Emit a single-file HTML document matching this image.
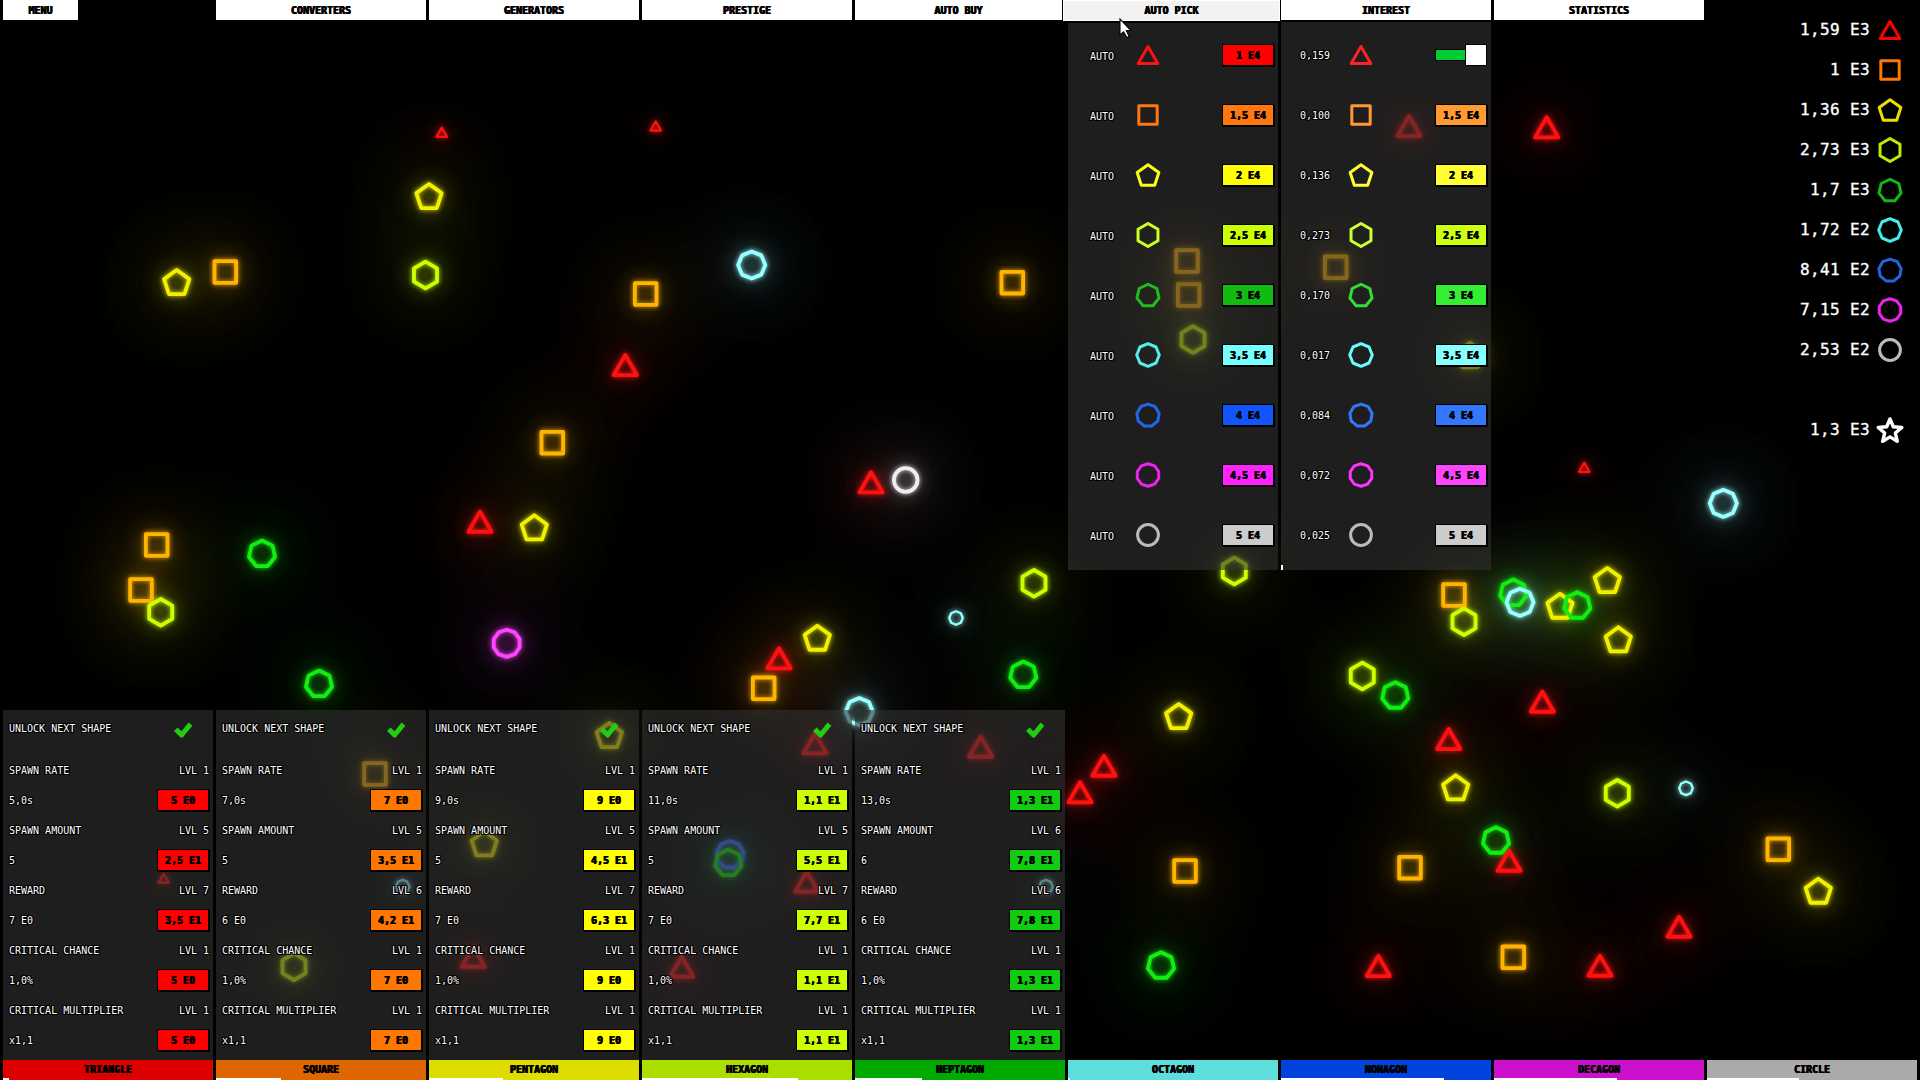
<!DOCTYPE html><html><head><meta charset="utf-8"><style>
*{margin:0;padding:0;box-sizing:border-box}
html,body{width:1920px;height:1080px;overflow:hidden;background:#000}
body{position:relative;font-family:'DejaVu Sans Mono','Liberation Mono',monospace;font-size:10px;color:#fff}
.a{position:absolute}
.tab{position:absolute;top:0;height:20px;background:#fff;color:#000;text-align:center;line-height:21px;font-size:10px;font-weight:bold;text-shadow:0.5px 0 0 #000,-0.3px 0 0 #000,0 0.4px 0 #000}
.panel{position:absolute;background:rgba(50,50,50,0.6)}
.t{position:absolute;line-height:10px;white-space:pre;text-shadow:-1px -1px 0 #000,1px -1px 0 #000,-1px 1px 0 #000,1px 1px 0 #000,0 1px 0 #000,1px 0 0 #000,-1px 0 0 #000,0 -1px 0 #000}
.btn{position:absolute;width:52px;height:22px;border:1px solid #000;box-shadow:1px 1px 0 #000;color:#000;text-align:center;line-height:22px;font-size:10px;font-weight:bold;text-shadow:0.5px 0 0 #000,-0.3px 0 0 #000,0 0.4px 0 #000}
.btab{position:absolute;top:1060px;height:20px;color:#000;text-align:center;line-height:19px;font-size:10px;overflow:hidden;font-weight:bold;text-shadow:0.5px 0 0 #000,-0.3px 0 0 #000,0 0.4px 0 #000}
.bar{position:absolute;left:0;bottom:0;height:2px;background:#fff}
.stat{position:absolute;right:50px;font-size:16px;line-height:16px;letter-spacing:0.35px;-webkit-text-stroke:0.35px #fff;text-align:right;white-space:pre}
</style></head><body>
<svg width="1920" height="1080" style="position:absolute;left:0;top:0">
<defs><filter id="g1" filterUnits="userSpaceOnUse" x="-150" y="-150" width="2220" height="1380" color-interpolation-filters="sRGB"><feGaussianBlur in="SourceGraphic" stdDeviation="40" result="b3"/><feGaussianBlur in="SourceGraphic" stdDeviation="10" result="b2"/><feGaussianBlur in="SourceGraphic" stdDeviation="2.5" result="b1"/><feComponentTransfer in="b3" result="b3a"><feFuncA type="linear" slope="1.6"/></feComponentTransfer><feComponentTransfer in="b2" result="b2a"><feFuncA type="linear" slope="0.7"/></feComponentTransfer><feComponentTransfer in="b1" result="b1a"><feFuncA type="linear" slope="0.9"/></feComponentTransfer><feMerge><feMergeNode in="b3a"/><feMergeNode in="b2a"/><feMergeNode in="b1a"/><feMergeNode in="SourceGraphic"/></feMerge></filter></defs>
<g filter="url(#g1)">
<polygon points="441.70,127.78 446.92,136.82 436.48,136.82" fill="none" stroke="#ff1111" stroke-width="2.3" stroke-linejoin="round" />
<polygon points="429.00,183.97 441.65,193.16 436.82,208.03 421.18,208.03 416.35,193.16" fill="none" stroke="#f0f000" stroke-width="3.8" stroke-linejoin="round" />
<polygon points="425.50,261.70 437.02,268.35 437.02,281.65 425.50,288.30 413.98,281.65 413.98,268.35" fill="none" stroke="#ccff00" stroke-width="3.8" stroke-linejoin="round" />
<polygon points="176.70,269.97 189.35,279.16 184.52,294.03 168.88,294.03 164.05,279.16" fill="none" stroke="#f0f000" stroke-width="3.8" stroke-linejoin="round" />
<polygon points="214.48,261.18 236.12,261.18 236.12,282.82 214.48,282.82" fill="none" stroke="#ffb400" stroke-width="3.8" stroke-linejoin="round" />
<polygon points="655.70,121.48 660.92,130.52 650.48,130.52" fill="none" stroke="#ff1111" stroke-width="2.3" stroke-linejoin="round" />
<polygon points="751.70,251.40 761.32,255.38 765.30,265.00 761.32,274.62 751.70,278.60 742.08,274.62 738.10,265.00 742.08,255.38" fill="none" stroke="#99ffff" stroke-width="3.8" stroke-linejoin="round" />
<polygon points="634.88,283.18 656.52,283.18 656.52,304.82 634.88,304.82" fill="none" stroke="#ffb400" stroke-width="3.8" stroke-linejoin="round" />
<polygon points="625.30,354.95 636.90,375.05 613.70,375.05" fill="none" stroke="#ff1111" stroke-width="3.8" stroke-linejoin="round" />
<polygon points="1001.48,271.88 1023.12,271.88 1023.12,293.52 1001.48,293.52" fill="none" stroke="#ffb400" stroke-width="3.8" stroke-linejoin="round" />
<polygon points="1176.18,250.18 1197.82,250.18 1197.82,271.82 1176.18,271.82" fill="none" stroke="#ffb400" stroke-width="3.8" stroke-linejoin="round" />
<polygon points="1177.88,284.18 1199.52,284.18 1199.52,305.82 1177.88,305.82" fill="none" stroke="#ffb400" stroke-width="3.8" stroke-linejoin="round" />
<polygon points="1193.00,326.20 1204.52,332.85 1204.52,346.15 1193.00,352.80 1181.48,346.15 1181.48,332.85" fill="none" stroke="#ccff00" stroke-width="3.8" stroke-linejoin="round" />
<polygon points="1409.00,115.95 1420.60,136.05 1397.40,136.05" fill="none" stroke="#ff1111" stroke-width="3.8" stroke-linejoin="round" />
<polygon points="1324.88,256.48 1346.52,256.48 1346.52,278.12 1324.88,278.12" fill="none" stroke="#ffb400" stroke-width="3.8" stroke-linejoin="round" />
<polygon points="1546.70,117.25 1558.30,137.35 1535.10,137.35" fill="none" stroke="#ff1111" stroke-width="3.8" stroke-linejoin="round" />
<polygon points="145.88,534.18 167.52,534.18 167.52,555.82 145.88,555.82" fill="none" stroke="#ffb400" stroke-width="3.8" stroke-linejoin="round" />
<polygon points="130.18,579.18 151.82,579.18 151.82,600.82 130.18,600.82" fill="none" stroke="#ffb400" stroke-width="3.8" stroke-linejoin="round" />
<polygon points="160.70,599.00 172.22,605.65 172.22,618.95 160.70,625.60 149.18,618.95 149.18,605.65" fill="none" stroke="#ccff00" stroke-width="3.8" stroke-linejoin="round" />
<polygon points="262.00,540.56 272.48,545.61 275.06,556.95 267.81,566.04 256.19,566.04 248.94,556.95 251.52,545.61" fill="none" stroke="#11ee11" stroke-width="3.8" stroke-linejoin="round" />
<polygon points="319.00,670.56 329.48,675.61 332.06,686.95 324.81,696.04 313.19,696.04 305.94,686.95 308.52,675.61" fill="none" stroke="#11ee11" stroke-width="3.8" stroke-linejoin="round" />
<polygon points="541.48,431.88 563.12,431.88 563.12,453.52 541.48,453.52" fill="none" stroke="#ffb400" stroke-width="3.8" stroke-linejoin="round" />
<polygon points="480.00,511.65 491.60,531.75 468.40,531.75" fill="none" stroke="#ff1111" stroke-width="3.8" stroke-linejoin="round" />
<polygon points="534.30,515.27 546.95,524.46 542.12,539.33 526.48,539.33 521.65,524.46" fill="none" stroke="#f0f000" stroke-width="3.8" stroke-linejoin="round" />
<polygon points="871.00,472.25 882.60,492.35 859.40,492.35" fill="none" stroke="#ff1111" stroke-width="3.8" stroke-linejoin="round" />
<circle cx="905.7" cy="480.0" r="11.8" fill="none" stroke="#eeeeee" stroke-width="3.8" />
<polygon points="506.70,629.70 514.69,632.30 519.63,639.10 519.63,647.50 514.69,654.30 506.70,656.90 498.71,654.30 493.77,647.50 493.77,639.10 498.71,632.30" fill="none" stroke="#ff44ff" stroke-width="3.8" stroke-linejoin="round" />
<polygon points="817.30,625.67 829.95,634.86 825.12,649.73 809.48,649.73 804.65,634.86" fill="none" stroke="#f0f000" stroke-width="3.8" stroke-linejoin="round" />
<polygon points="779.00,648.25 790.60,668.35 767.40,668.35" fill="none" stroke="#ff1111" stroke-width="3.8" stroke-linejoin="round" />
<polygon points="752.88,677.48 774.52,677.48 774.52,699.12 752.88,699.12" fill="none" stroke="#ffb400" stroke-width="3.8" stroke-linejoin="round" />
<polygon points="956.00,611.20 960.81,613.19 962.80,618.00 960.81,622.81 956.00,624.80 951.19,622.81 949.20,618.00 951.19,613.19" fill="none" stroke="#99ffff" stroke-width="2.3" stroke-linejoin="round" />
<polygon points="859.30,698.10 868.92,702.08 872.90,711.70 868.92,721.32 859.30,725.30 849.68,721.32 845.70,711.70 849.68,702.08" fill="none" stroke="#99ffff" stroke-width="3.8" stroke-linejoin="round" />
<polygon points="1034.00,570.00 1045.52,576.65 1045.52,589.95 1034.00,596.60 1022.48,589.95 1022.48,576.65" fill="none" stroke="#ccff00" stroke-width="3.8" stroke-linejoin="round" />
<polygon points="1234.30,557.70 1245.82,564.35 1245.82,577.65 1234.30,584.30 1222.78,577.65 1222.78,564.35" fill="none" stroke="#ccff00" stroke-width="3.8" stroke-linejoin="round" />
<polygon points="1023.30,661.56 1033.78,666.61 1036.36,677.95 1029.11,687.04 1017.49,687.04 1010.24,677.95 1012.82,666.61" fill="none" stroke="#11ee11" stroke-width="3.8" stroke-linejoin="round" />
<polygon points="1178.70,703.97 1191.35,713.16 1186.52,728.03 1170.88,728.03 1166.05,713.16" fill="none" stroke="#f0f000" stroke-width="3.8" stroke-linejoin="round" />
<polygon points="1362.30,662.70 1373.82,669.35 1373.82,682.65 1362.30,689.30 1350.78,682.65 1350.78,669.35" fill="none" stroke="#ccff00" stroke-width="3.8" stroke-linejoin="round" />
<polygon points="1395.30,682.26 1405.78,687.31 1408.36,698.65 1401.11,707.74 1389.49,707.74 1382.24,698.65 1384.82,687.31" fill="none" stroke="#11ee11" stroke-width="3.8" stroke-linejoin="round" />
<polygon points="1584.30,462.78 1589.52,471.82 1579.08,471.82" fill="none" stroke="#ff1111" stroke-width="2.3" stroke-linejoin="round" />
<polygon points="1723.30,489.70 1732.92,493.68 1736.90,503.30 1732.92,512.92 1723.30,516.90 1713.68,512.92 1709.70,503.30 1713.68,493.68" fill="none" stroke="#99ffff" stroke-width="3.8" stroke-linejoin="round" />
<polygon points="1443.18,584.18 1464.82,584.18 1464.82,605.82 1443.18,605.82" fill="none" stroke="#ffb400" stroke-width="3.8" stroke-linejoin="round" />
<polygon points="1464.00,608.40 1475.52,615.05 1475.52,628.35 1464.00,635.00 1452.48,628.35 1452.48,615.05" fill="none" stroke="#ccff00" stroke-width="3.8" stroke-linejoin="round" />
<polygon points="1513.30,579.56 1523.78,584.61 1526.36,595.95 1519.11,605.04 1507.49,605.04 1500.24,595.95 1502.82,584.61" fill="none" stroke="#11ee11" stroke-width="3.8" stroke-linejoin="round" />
<polygon points="1520.00,588.70 1529.62,592.68 1533.60,602.30 1529.62,611.92 1520.00,615.90 1510.38,611.92 1506.40,602.30 1510.38,592.68" fill="none" stroke="#99ffff" stroke-width="3.8" stroke-linejoin="round" />
<polygon points="1560.00,593.67 1572.65,602.86 1567.82,617.73 1552.18,617.73 1547.35,602.86" fill="none" stroke="#f0f000" stroke-width="3.8" stroke-linejoin="round" />
<polygon points="1577.30,592.26 1587.78,597.31 1590.36,608.65 1583.11,617.74 1571.49,617.74 1564.24,608.65 1566.82,597.31" fill="none" stroke="#11ee11" stroke-width="3.8" stroke-linejoin="round" />
<polygon points="1607.30,567.97 1619.95,577.16 1615.12,592.03 1599.48,592.03 1594.65,577.16" fill="none" stroke="#f0f000" stroke-width="3.8" stroke-linejoin="round" />
<polygon points="1618.30,627.27 1630.95,636.46 1626.12,651.33 1610.48,651.33 1605.65,636.46" fill="none" stroke="#f0f000" stroke-width="3.8" stroke-linejoin="round" />
<polygon points="1542.30,691.65 1553.90,711.75 1530.70,711.75" fill="none" stroke="#ff1111" stroke-width="3.8" stroke-linejoin="round" />
<polygon points="1448.70,728.95 1460.30,749.05 1437.10,749.05" fill="none" stroke="#ff1111" stroke-width="3.8" stroke-linejoin="round" />
<polygon points="1104.00,755.65 1115.60,775.75 1092.40,775.75" fill="none" stroke="#ff1111" stroke-width="3.8" stroke-linejoin="round" />
<polygon points="1080.00,782.25 1091.60,802.35 1068.40,802.35" fill="none" stroke="#ff1111" stroke-width="3.8" stroke-linejoin="round" />
<polygon points="1174.18,860.18 1195.82,860.18 1195.82,881.82 1174.18,881.82" fill="none" stroke="#ffb400" stroke-width="3.8" stroke-linejoin="round" />
<polygon points="1161.00,952.26 1171.48,957.31 1174.06,968.65 1166.81,977.74 1155.19,977.74 1147.94,968.65 1150.52,957.31" fill="none" stroke="#11ee11" stroke-width="3.8" stroke-linejoin="round" />
<polygon points="1455.70,775.27 1468.35,784.46 1463.52,799.33 1447.88,799.33 1443.05,784.46" fill="none" stroke="#f0f000" stroke-width="3.8" stroke-linejoin="round" />
<polygon points="1399.18,856.88 1420.82,856.88 1420.82,878.52 1399.18,878.52" fill="none" stroke="#ffb400" stroke-width="3.8" stroke-linejoin="round" />
<polygon points="1378.30,955.95 1389.90,976.05 1366.70,976.05" fill="none" stroke="#ff1111" stroke-width="3.8" stroke-linejoin="round" />
<polygon points="1617.30,780.00 1628.82,786.65 1628.82,799.95 1617.30,806.60 1605.78,799.95 1605.78,786.65" fill="none" stroke="#ccff00" stroke-width="3.8" stroke-linejoin="round" />
<polygon points="1686.00,781.50 1690.81,783.49 1692.80,788.30 1690.81,793.11 1686.00,795.10 1681.19,793.11 1679.20,788.30 1681.19,783.49" fill="none" stroke="#99ffff" stroke-width="2.3" stroke-linejoin="round" />
<polygon points="1496.00,827.26 1506.48,832.31 1509.06,843.65 1501.81,852.74 1490.19,852.74 1482.94,843.65 1485.52,832.31" fill="none" stroke="#11ee11" stroke-width="3.8" stroke-linejoin="round" />
<polygon points="1509.00,850.65 1520.60,870.75 1497.40,870.75" fill="none" stroke="#ff1111" stroke-width="3.8" stroke-linejoin="round" />
<polygon points="1767.48,838.48 1789.12,838.48 1789.12,860.12 1767.48,860.12" fill="none" stroke="#ffb400" stroke-width="3.8" stroke-linejoin="round" />
<polygon points="1818.30,878.67 1830.95,887.86 1826.12,902.73 1810.48,902.73 1805.65,887.86" fill="none" stroke="#f0f000" stroke-width="3.8" stroke-linejoin="round" />
<polygon points="1679.00,916.65 1690.60,936.75 1667.40,936.75" fill="none" stroke="#ff1111" stroke-width="3.8" stroke-linejoin="round" />
<polygon points="1502.48,946.48 1524.12,946.48 1524.12,968.12 1502.48,968.12" fill="none" stroke="#ffb400" stroke-width="3.8" stroke-linejoin="round" />
<polygon points="1600.00,955.65 1611.60,975.75 1588.40,975.75" fill="none" stroke="#ff1111" stroke-width="3.8" stroke-linejoin="round" />
<polygon points="163.70,873.68 168.92,882.72 158.48,882.72" fill="none" stroke="#ff1111" stroke-width="2.3" stroke-linejoin="round" />
<polygon points="364.18,763.18 385.82,763.18 385.82,784.82 364.18,784.82" fill="none" stroke="#ffb400" stroke-width="3.8" stroke-linejoin="round" />
<polygon points="402.70,879.90 407.51,881.89 409.50,886.70 407.51,891.51 402.70,893.50 397.89,891.51 395.90,886.70 397.89,881.89" fill="none" stroke="#99ffff" stroke-width="2.3" stroke-linejoin="round" />
<polygon points="294.00,953.40 305.52,960.05 305.52,973.35 294.00,980.00 282.48,973.35 282.48,960.05" fill="none" stroke="#ccff00" stroke-width="3.8" stroke-linejoin="round" />
<polygon points="609.30,722.97 621.95,732.16 617.12,747.03 601.48,747.03 596.65,732.16" fill="none" stroke="#f0f000" stroke-width="3.8" stroke-linejoin="round" />
<polygon points="484.30,831.27 496.95,840.46 492.12,855.33 476.48,855.33 471.65,840.46" fill="none" stroke="#f0f000" stroke-width="3.8" stroke-linejoin="round" />
<polygon points="473.30,946.65 484.90,966.75 461.70,966.75" fill="none" stroke="#ff1111" stroke-width="3.8" stroke-linejoin="round" />
<polygon points="815.00,733.25 826.60,753.35 803.40,753.35" fill="none" stroke="#ff1111" stroke-width="3.8" stroke-linejoin="round" />
<polygon points="730.00,841.11 738.74,844.29 743.39,852.35 741.78,861.51 734.65,867.49 725.35,867.49 718.22,861.51 716.61,852.35 721.26,844.29" fill="none" stroke="#3377ff" stroke-width="3.8" stroke-linejoin="round" />
<polygon points="728.30,849.56 738.78,854.61 741.36,865.95 734.11,875.04 722.49,875.04 715.24,865.95 717.82,854.61" fill="none" stroke="#11ee11" stroke-width="3.8" stroke-linejoin="round" />
<polygon points="806.70,871.65 818.30,891.75 795.10,891.75" fill="none" stroke="#ff1111" stroke-width="3.8" stroke-linejoin="round" />
<polygon points="681.70,956.65 693.30,976.75 670.10,976.75" fill="none" stroke="#ff1111" stroke-width="3.8" stroke-linejoin="round" />
<polygon points="980.70,736.65 992.30,756.75 969.10,756.75" fill="none" stroke="#ff1111" stroke-width="3.8" stroke-linejoin="round" />
<polygon points="1046.00,879.90 1050.81,881.89 1052.80,886.70 1050.81,891.51 1046.00,893.50 1041.19,891.51 1039.20,886.70 1041.19,881.89" fill="none" stroke="#99ffff" stroke-width="2.3" stroke-linejoin="round" />
<polygon points="1470.00,342.97 1482.65,352.16 1477.82,367.03 1462.18,367.03 1457.35,352.16" fill="none" stroke="#f0f000" stroke-width="3.8" stroke-linejoin="round" />
</g></svg>
<div class="panel" style="left:3px;top:710px;width:210px;height:350px"></div>
<div class="t" style="left:9px;top:724px">UNLOCK NEXT SHAPE</div>
<svg class="a" style="left:174px;top:722px" width="20" height="16" viewBox="0 0 20 16"><polyline points="1.8,7.2 7.6,13 16.5,2.2" fill="none" stroke="#22cc11" stroke-width="5" stroke-linejoin="round"/></svg>
<div class="t" style="left:9px;top:766px">SPAWN RATE</div>
<div class="t" style="left:154px;width:55px;text-align:right;top:766px">LVL 1</div>
<div class="t" style="left:9px;top:796px">5,0s</div>
<div class="btn" style="left:157px;top:789px;background:#ff0000">5 E0</div>
<div class="t" style="left:9px;top:826px">SPAWN AMOUNT</div>
<div class="t" style="left:154px;width:55px;text-align:right;top:826px">LVL 5</div>
<div class="t" style="left:9px;top:856px">5</div>
<div class="btn" style="left:157px;top:849px;background:#ff0000">2,5 E1</div>
<div class="t" style="left:9px;top:886px">REWARD</div>
<div class="t" style="left:154px;width:55px;text-align:right;top:886px">LVL 7</div>
<div class="t" style="left:9px;top:916px">7 E0</div>
<div class="btn" style="left:157px;top:909px;background:#ff0000">3,5 E1</div>
<div class="t" style="left:9px;top:946px">CRITICAL CHANCE</div>
<div class="t" style="left:154px;width:55px;text-align:right;top:946px">LVL 1</div>
<div class="t" style="left:9px;top:976px">1,0%</div>
<div class="btn" style="left:157px;top:969px;background:#ff0000">5 E0</div>
<div class="t" style="left:9px;top:1006px">CRITICAL MULTIPLIER</div>
<div class="t" style="left:154px;width:55px;text-align:right;top:1006px">LVL 1</div>
<div class="t" style="left:9px;top:1036px">x1,1</div>
<div class="btn" style="left:157px;top:1029px;background:#ff0000">5 E0</div>
<div class="panel" style="left:216px;top:710px;width:210px;height:350px"></div>
<div class="t" style="left:222px;top:724px">UNLOCK NEXT SHAPE</div>
<svg class="a" style="left:387px;top:722px" width="20" height="16" viewBox="0 0 20 16"><polyline points="1.8,7.2 7.6,13 16.5,2.2" fill="none" stroke="#22cc11" stroke-width="5" stroke-linejoin="round"/></svg>
<div class="t" style="left:222px;top:766px">SPAWN RATE</div>
<div class="t" style="left:367px;width:55px;text-align:right;top:766px">LVL 1</div>
<div class="t" style="left:222px;top:796px">7,0s</div>
<div class="btn" style="left:370px;top:789px;background:#ff7700">7 E0</div>
<div class="t" style="left:222px;top:826px">SPAWN AMOUNT</div>
<div class="t" style="left:367px;width:55px;text-align:right;top:826px">LVL 5</div>
<div class="t" style="left:222px;top:856px">5</div>
<div class="btn" style="left:370px;top:849px;background:#ff7700">3,5 E1</div>
<div class="t" style="left:222px;top:886px">REWARD</div>
<div class="t" style="left:367px;width:55px;text-align:right;top:886px">LVL 6</div>
<div class="t" style="left:222px;top:916px">6 E0</div>
<div class="btn" style="left:370px;top:909px;background:#ff7700">4,2 E1</div>
<div class="t" style="left:222px;top:946px">CRITICAL CHANCE</div>
<div class="t" style="left:367px;width:55px;text-align:right;top:946px">LVL 1</div>
<div class="t" style="left:222px;top:976px">1,0%</div>
<div class="btn" style="left:370px;top:969px;background:#ff7700">7 E0</div>
<div class="t" style="left:222px;top:1006px">CRITICAL MULTIPLIER</div>
<div class="t" style="left:367px;width:55px;text-align:right;top:1006px">LVL 1</div>
<div class="t" style="left:222px;top:1036px">x1,1</div>
<div class="btn" style="left:370px;top:1029px;background:#ff7700">7 E0</div>
<div class="panel" style="left:429px;top:710px;width:210px;height:350px"></div>
<div class="t" style="left:435px;top:724px">UNLOCK NEXT SHAPE</div>
<svg class="a" style="left:600px;top:722px" width="20" height="16" viewBox="0 0 20 16"><polyline points="1.8,7.2 7.6,13 16.5,2.2" fill="none" stroke="#22cc11" stroke-width="5" stroke-linejoin="round"/></svg>
<div class="t" style="left:435px;top:766px">SPAWN RATE</div>
<div class="t" style="left:580px;width:55px;text-align:right;top:766px">LVL 1</div>
<div class="t" style="left:435px;top:796px">9,0s</div>
<div class="btn" style="left:583px;top:789px;background:#ffff00">9 E0</div>
<div class="t" style="left:435px;top:826px">SPAWN AMOUNT</div>
<div class="t" style="left:580px;width:55px;text-align:right;top:826px">LVL 5</div>
<div class="t" style="left:435px;top:856px">5</div>
<div class="btn" style="left:583px;top:849px;background:#ffff00">4,5 E1</div>
<div class="t" style="left:435px;top:886px">REWARD</div>
<div class="t" style="left:580px;width:55px;text-align:right;top:886px">LVL 7</div>
<div class="t" style="left:435px;top:916px">7 E0</div>
<div class="btn" style="left:583px;top:909px;background:#ffff00">6,3 E1</div>
<div class="t" style="left:435px;top:946px">CRITICAL CHANCE</div>
<div class="t" style="left:580px;width:55px;text-align:right;top:946px">LVL 1</div>
<div class="t" style="left:435px;top:976px">1,0%</div>
<div class="btn" style="left:583px;top:969px;background:#ffff00">9 E0</div>
<div class="t" style="left:435px;top:1006px">CRITICAL MULTIPLIER</div>
<div class="t" style="left:580px;width:55px;text-align:right;top:1006px">LVL 1</div>
<div class="t" style="left:435px;top:1036px">x1,1</div>
<div class="btn" style="left:583px;top:1029px;background:#ffff00">9 E0</div>
<div class="panel" style="left:642px;top:710px;width:210px;height:350px"></div>
<div class="t" style="left:648px;top:724px">UNLOCK NEXT SHAPE</div>
<svg class="a" style="left:813px;top:722px" width="20" height="16" viewBox="0 0 20 16"><polyline points="1.8,7.2 7.6,13 16.5,2.2" fill="none" stroke="#22cc11" stroke-width="5" stroke-linejoin="round"/></svg>
<div class="t" style="left:648px;top:766px">SPAWN RATE</div>
<div class="t" style="left:793px;width:55px;text-align:right;top:766px">LVL 1</div>
<div class="t" style="left:648px;top:796px">11,0s</div>
<div class="btn" style="left:796px;top:789px;background:#ccff00">1,1 E1</div>
<div class="t" style="left:648px;top:826px">SPAWN AMOUNT</div>
<div class="t" style="left:793px;width:55px;text-align:right;top:826px">LVL 5</div>
<div class="t" style="left:648px;top:856px">5</div>
<div class="btn" style="left:796px;top:849px;background:#ccff00">5,5 E1</div>
<div class="t" style="left:648px;top:886px">REWARD</div>
<div class="t" style="left:793px;width:55px;text-align:right;top:886px">LVL 7</div>
<div class="t" style="left:648px;top:916px">7 E0</div>
<div class="btn" style="left:796px;top:909px;background:#ccff00">7,7 E1</div>
<div class="t" style="left:648px;top:946px">CRITICAL CHANCE</div>
<div class="t" style="left:793px;width:55px;text-align:right;top:946px">LVL 1</div>
<div class="t" style="left:648px;top:976px">1,0%</div>
<div class="btn" style="left:796px;top:969px;background:#ccff00">1,1 E1</div>
<div class="t" style="left:648px;top:1006px">CRITICAL MULTIPLIER</div>
<div class="t" style="left:793px;width:55px;text-align:right;top:1006px">LVL 1</div>
<div class="t" style="left:648px;top:1036px">x1,1</div>
<div class="btn" style="left:796px;top:1029px;background:#ccff00">1,1 E1</div>
<div class="panel" style="left:855px;top:710px;width:210px;height:350px"></div>
<div class="t" style="left:861px;top:724px">UNLOCK NEXT SHAPE</div>
<svg class="a" style="left:1026px;top:722px" width="20" height="16" viewBox="0 0 20 16"><polyline points="1.8,7.2 7.6,13 16.5,2.2" fill="none" stroke="#22cc11" stroke-width="5" stroke-linejoin="round"/></svg>
<div class="t" style="left:861px;top:766px">SPAWN RATE</div>
<div class="t" style="left:1006px;width:55px;text-align:right;top:766px">LVL 1</div>
<div class="t" style="left:861px;top:796px">13,0s</div>
<div class="btn" style="left:1009px;top:789px;background:#11cc11">1,3 E1</div>
<div class="t" style="left:861px;top:826px">SPAWN AMOUNT</div>
<div class="t" style="left:1006px;width:55px;text-align:right;top:826px">LVL 6</div>
<div class="t" style="left:861px;top:856px">6</div>
<div class="btn" style="left:1009px;top:849px;background:#11cc11">7,8 E1</div>
<div class="t" style="left:861px;top:886px">REWARD</div>
<div class="t" style="left:1006px;width:55px;text-align:right;top:886px">LVL 6</div>
<div class="t" style="left:861px;top:916px">6 E0</div>
<div class="btn" style="left:1009px;top:909px;background:#11cc11">7,8 E1</div>
<div class="t" style="left:861px;top:946px">CRITICAL CHANCE</div>
<div class="t" style="left:1006px;width:55px;text-align:right;top:946px">LVL 1</div>
<div class="t" style="left:861px;top:976px">1,0%</div>
<div class="btn" style="left:1009px;top:969px;background:#11cc11">1,3 E1</div>
<div class="t" style="left:861px;top:1006px">CRITICAL MULTIPLIER</div>
<div class="t" style="left:1006px;width:55px;text-align:right;top:1006px">LVL 1</div>
<div class="t" style="left:861px;top:1036px">x1,1</div>
<div class="btn" style="left:1009px;top:1029px;background:#11cc11">1,3 E1</div>
<div class="btab" style="left:3px;width:210px;background:#dd0000">TRIANGLE<div class="bar" style="width:6px"></div></div>
<div class="btab" style="left:216px;width:210px;background:#dd6600">SQUARE<div class="bar" style="width:65px"></div></div>
<div class="btab" style="left:429px;width:210px;background:#dddd00">PENTAGON<div class="bar" style="width:74px"></div></div>
<div class="btab" style="left:642px;width:210px;background:#aadd00">HEXAGON<div class="bar" style="width:156px"></div></div>
<div class="btab" style="left:855px;width:210px;background:#00aa00">HEPTAGON<div class="bar" style="width:67px"></div></div>
<div class="btab" style="left:1068px;width:210px;background:#5edddd">OCTAGON<div class="bar" style="width:2px"></div></div>
<div class="btab" style="left:1281px;width:210px;background:#0044dd">NONAGON<div class="bar" style="width:163px"></div></div>
<div class="btab" style="left:1494px;width:210px;background:#cc11cc">DECAGON<div class="bar" style="width:123px"></div></div>
<div class="btab" style="left:1707px;width:210px;background:#aaaaaa">CIRCLE<div class="bar" style="width:92px"></div></div>
<div class="panel" style="left:1068px;top:23px;width:210px;height:547px"></div>
<div class="panel" style="left:1281px;top:22px;width:210px;height:548px"></div>
<div class="t" style="left:1090px;top:52px">AUTO</div>
<div class="btn" style="left:1222px;top:44px;background:#ff0000">1 E4</div>
<div class="t" style="left:1300px;top:51px">0,159</div>
<div class="t" style="left:1090px;top:112px">AUTO</div>
<div class="btn" style="left:1222px;top:104px;background:#ff7711">1,5 E4</div>
<div class="t" style="left:1300px;top:111px">0,100</div>
<div class="btn" style="left:1435px;top:104px;background:#ff9933">1,5 E4</div>
<div class="t" style="left:1090px;top:172px">AUTO</div>
<div class="btn" style="left:1222px;top:164px;background:#ffff00">2 E4</div>
<div class="t" style="left:1300px;top:171px">0,136</div>
<div class="btn" style="left:1435px;top:164px;background:#ffff33">2 E4</div>
<div class="t" style="left:1090px;top:232px">AUTO</div>
<div class="btn" style="left:1222px;top:224px;background:#ccff00">2,5 E4</div>
<div class="t" style="left:1300px;top:231px">0,273</div>
<div class="btn" style="left:1435px;top:224px;background:#ccff11">2,5 E4</div>
<div class="t" style="left:1090px;top:292px">AUTO</div>
<div class="btn" style="left:1222px;top:284px;background:#11bb11">3 E4</div>
<div class="t" style="left:1300px;top:291px">0,170</div>
<div class="btn" style="left:1435px;top:284px;background:#33ee33">3 E4</div>
<div class="t" style="left:1090px;top:352px">AUTO</div>
<div class="btn" style="left:1222px;top:344px;background:#77ffff">3,5 E4</div>
<div class="t" style="left:1300px;top:351px">0,017</div>
<div class="btn" style="left:1435px;top:344px;background:#88ffff">3,5 E4</div>
<div class="t" style="left:1090px;top:412px">AUTO</div>
<div class="btn" style="left:1222px;top:404px;background:#1155ff">4 E4</div>
<div class="t" style="left:1300px;top:411px">0,084</div>
<div class="btn" style="left:1435px;top:404px;background:#3377ff">4 E4</div>
<div class="t" style="left:1090px;top:472px">AUTO</div>
<div class="btn" style="left:1222px;top:464px;background:#ff22ff">4,5 E4</div>
<div class="t" style="left:1300px;top:471px">0,072</div>
<div class="btn" style="left:1435px;top:464px;background:#ff44ff">4,5 E4</div>
<div class="t" style="left:1090px;top:532px">AUTO</div>
<div class="btn" style="left:1222px;top:524px;background:#cccccc">5 E4</div>
<div class="t" style="left:1300px;top:531px">0,025</div>
<div class="btn" style="left:1435px;top:524px;background:#cccccc">5 E4</div>
<div class="a" style="left:1281px;top:565px;width:1.5px;height:5px;background:#fff"></div>
<div class="a" style="left:1435px;top:49px;width:32px;height:12px;background:#00cc33;border:1px solid #000"></div>
<div class="a" style="left:1465px;top:44px;width:22px;height:22px;background:#fff;border:1px solid #000"></div>
<div class="stat" style="top:22px">1,59 E3</div>
<div class="stat" style="top:62px">1 E3</div>
<div class="stat" style="top:102px">1,36 E3</div>
<div class="stat" style="top:142px">2,73 E3</div>
<div class="stat" style="top:182px">1,7 E3</div>
<div class="stat" style="top:222px">1,72 E2</div>
<div class="stat" style="top:262px">8,41 E2</div>
<div class="stat" style="top:302px">7,15 E2</div>
<div class="stat" style="top:342px">2,53 E2</div>
<div class="stat" style="top:422px">1,3 E3</div>
<svg width="1920" height="1080" class="a" style="left:0;top:0">
<polygon points="1148.00,46.53 1157.79,63.48 1138.21,63.48" fill="none" stroke="#ff1111" stroke-width="3" stroke-linejoin="round" />
<polygon points="1361.00,46.53 1370.79,63.48 1351.21,63.48" fill="none" stroke="#ff2222" stroke-width="3" stroke-linejoin="round" />
<polygon points="1138.81,105.81 1157.19,105.81 1157.19,124.19 1138.81,124.19" fill="none" stroke="#ff7711" stroke-width="3" stroke-linejoin="round" />
<polygon points="1351.81,105.81 1370.19,105.81 1370.19,124.19 1351.81,124.19" fill="none" stroke="#ff9933" stroke-width="3" stroke-linejoin="round" />
<polygon points="1148.00,164.69 1158.84,172.57 1154.70,185.31 1141.30,185.31 1137.16,172.57" fill="none" stroke="#ffff11" stroke-width="3" stroke-linejoin="round" />
<polygon points="1361.00,164.69 1371.84,172.57 1367.70,185.31 1354.30,185.31 1350.16,172.57" fill="none" stroke="#ffff33" stroke-width="3" stroke-linejoin="round" />
<polygon points="1148.00,223.50 1157.96,229.25 1157.96,240.75 1148.00,246.50 1138.04,240.75 1138.04,229.25" fill="none" stroke="#ccff22" stroke-width="3" stroke-linejoin="round" />
<polygon points="1361.00,223.50 1370.96,229.25 1370.96,240.75 1361.00,246.50 1351.04,240.75 1351.04,229.25" fill="none" stroke="#ccff33" stroke-width="3" stroke-linejoin="round" />
<polygon points="1148.00,284.26 1156.83,288.51 1159.02,298.07 1152.90,305.74 1143.10,305.74 1136.98,298.07 1139.17,288.51" fill="none" stroke="#22bb22" stroke-width="3" stroke-linejoin="round" />
<polygon points="1361.00,284.26 1369.83,288.51 1372.02,298.07 1365.90,305.74 1356.10,305.74 1349.98,298.07 1352.17,288.51" fill="none" stroke="#33dd33" stroke-width="3" stroke-linejoin="round" />
<polygon points="1148.00,343.70 1155.99,347.01 1159.30,355.00 1155.99,362.99 1148.00,366.30 1140.01,362.99 1136.70,355.00 1140.01,347.01" fill="none" stroke="#55eeee" stroke-width="3" stroke-linejoin="round" />
<polygon points="1361.00,343.70 1368.99,347.01 1372.30,355.00 1368.99,362.99 1361.00,366.30 1353.01,362.99 1349.70,355.00 1353.01,347.01" fill="none" stroke="#66ffff" stroke-width="3" stroke-linejoin="round" />
<polygon points="1148.00,404.04 1155.26,406.68 1159.13,413.38 1157.79,420.99 1151.86,425.96 1144.14,425.96 1138.21,420.99 1136.87,413.38 1140.74,406.68" fill="none" stroke="#2266ee" stroke-width="3" stroke-linejoin="round" />
<polygon points="1361.00,404.04 1368.26,406.68 1372.13,413.38 1370.79,420.99 1364.86,425.96 1357.14,425.96 1351.21,420.99 1349.87,413.38 1353.74,406.68" fill="none" stroke="#3377ff" stroke-width="3" stroke-linejoin="round" />
<polygon points="1148.00,463.70 1154.64,465.86 1158.75,471.51 1158.75,478.49 1154.64,484.14 1148.00,486.30 1141.36,484.14 1137.25,478.49 1137.25,471.51 1141.36,465.86" fill="none" stroke="#ee22ee" stroke-width="3" stroke-linejoin="round" />
<polygon points="1361.00,463.70 1367.64,465.86 1371.75,471.51 1371.75,478.49 1367.64,484.14 1361.00,486.30 1354.36,484.14 1350.25,478.49 1350.25,471.51 1354.36,465.86" fill="none" stroke="#ff33ff" stroke-width="3" stroke-linejoin="round" />
<circle cx="1148.0" cy="535.0" r="10.4" fill="none" stroke="#bbbbbb" stroke-width="3" />
<circle cx="1361.0" cy="535.0" r="10.4" fill="none" stroke="#bbbbbb" stroke-width="3" />
<polygon points="1890.00,21.52 1899.79,38.48 1880.21,38.48" fill="none" stroke="#ff0000" stroke-width="3" stroke-linejoin="round" />
<polygon points="1880.81,60.81 1899.19,60.81 1899.19,79.19 1880.81,79.19" fill="none" stroke="#ff7700" stroke-width="3" stroke-linejoin="round" />
<polygon points="1890.00,99.69 1900.84,107.57 1896.70,120.31 1883.30,120.31 1879.16,107.57" fill="none" stroke="#eedd00" stroke-width="3" stroke-linejoin="round" />
<polygon points="1890.00,138.50 1899.96,144.25 1899.96,155.75 1890.00,161.50 1880.04,155.75 1880.04,144.25" fill="none" stroke="#bbee00" stroke-width="3" stroke-linejoin="round" />
<polygon points="1890.00,179.26 1898.83,183.51 1901.02,193.07 1894.90,200.74 1885.10,200.74 1878.98,193.07 1881.17,183.51" fill="none" stroke="#11bb11" stroke-width="3" stroke-linejoin="round" />
<polygon points="1890.00,218.70 1897.99,222.01 1901.30,230.00 1897.99,237.99 1890.00,241.30 1882.01,237.99 1878.70,230.00 1882.01,222.01" fill="none" stroke="#44eeee" stroke-width="3" stroke-linejoin="round" />
<polygon points="1890.00,259.04 1897.26,261.68 1901.13,268.38 1899.79,275.99 1893.86,280.96 1886.14,280.96 1880.21,275.99 1878.87,268.38 1882.74,261.68" fill="none" stroke="#2266dd" stroke-width="3" stroke-linejoin="round" />
<polygon points="1890.00,298.70 1896.64,300.86 1900.75,306.51 1900.75,313.49 1896.64,319.14 1890.00,321.30 1883.36,319.14 1879.25,313.49 1879.25,306.51 1883.36,300.86" fill="none" stroke="#ee22ee" stroke-width="3" stroke-linejoin="round" />
<circle cx="1890.0" cy="350.0" r="10.4" fill="none" stroke="#bbbbbb" stroke-width="3" />
<polygon points="1890.00,418.90 1893.29,426.77 1901.79,427.47 1895.33,433.03 1897.29,441.33 1890.00,436.90 1882.71,441.33 1884.67,433.03 1878.21,427.47 1886.71,426.77" fill="none" stroke="#fff" stroke-width="3.4" stroke-linejoin="round"/>
</svg>
<div class="tab" style="left:3px;width:75px;">MENU</div>
<div class="tab" style="left:216px;width:210px;">CONVERTERS</div>
<div class="tab" style="left:429px;width:210px;">GENERATORS</div>
<div class="tab" style="left:642px;width:210px;">PRESTIGE</div>
<div class="tab" style="left:855px;width:207px;">AUTO BUY</div>
<div class="tab" style="left:1063px;width:217px;height:21px;background:#f2f2f2;border:1px solid #fff;line-height:19px">AUTO PICK</div>
<div class="tab" style="left:1281px;width:210px;">INTEREST</div>
<div class="tab" style="left:1494px;width:210px;">STATISTICS</div>
<svg class="a" style="left:1119.2px;top:18.2px" width="15" height="22" viewBox="0 0 15 22"><path d="M1,1 L1,17 L4.6,13.8 L7.8,19.6 L10.2,18.6 L7.3,12.5 L12,12.5 Z" fill="#fff" stroke="#000" stroke-width="1.1" stroke-linejoin="miter"/></svg>
</body></html>
